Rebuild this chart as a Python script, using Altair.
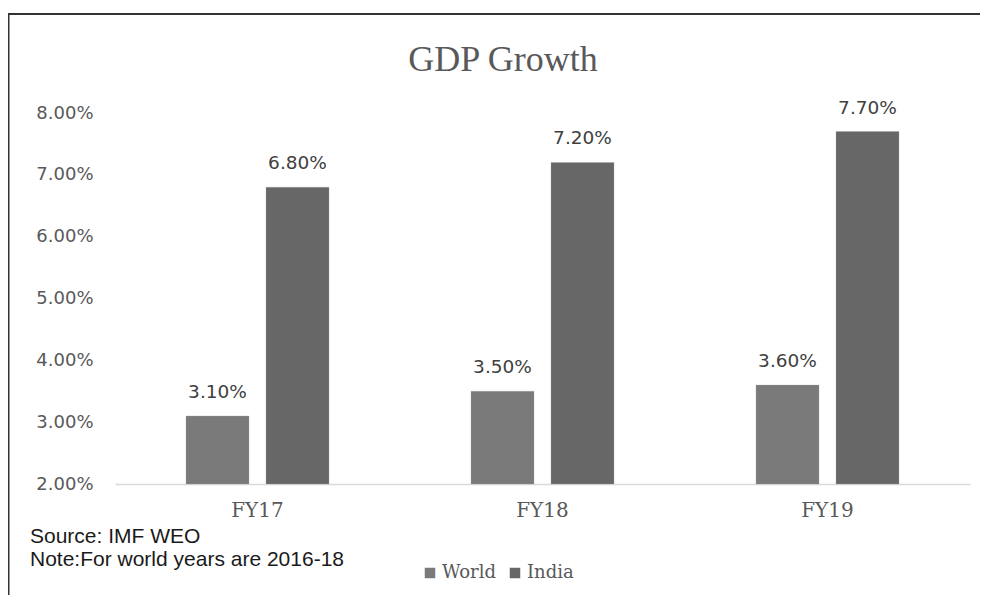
import altair as alt
import pandas as pd

categories = ["FY17", "FY18", "FY19"]
series_names = ["World", "India"]
world_values = [0.031, 0.035, 0.036]
india_values = [0.068, 0.072, 0.077]
y_ticks = [0.02, 0.03, 0.04, 0.05, 0.06, 0.07, 0.08]
bar_colors = ["#7a7a7a", "#676767"]
title_text = "GDP Growth"
note_lines = ["Source: IMF WEO", "Note:For world years are 2016-18"]

rows = []
for i, c in enumerate(categories):
    rows.append({"cat": c, "series": "World", "value": world_values[i]})
    rows.append({"cat": c, "series": "India", "value": india_values[i]})
df = pd.DataFrame(rows)

W, H = 855, 371

x_enc = alt.X("cat:N", sort=categories, title=None,
              scale=alt.Scale(paddingInner=0, paddingOuter=0),
              axis=alt.Axis(labelFont="DejaVu Serif", labelFontSize=20, labelColor="#595959",
                            labelPadding=16, ticks=False, domainColor="#d9d9d9",
                            domainWidth=1.5, labelAngle=0, grid=False))
xo_enc = alt.XOffset("series:N", sort=series_names,
                     scale=alt.Scale(domain=series_names, paddingInner=0.2125, paddingOuter=0.8875))
y_scale = alt.Scale(domain=[0.02, 0.08], zero=False, nice=False)

bars = alt.Chart(df).mark_bar(stroke="#a0a0a0", strokeWidth=0.5, strokeOpacity=0.6).encode(
    x=x_enc,
    xOffset=xo_enc,
    y=alt.Y("value:Q", scale=y_scale, title=None,
            axis=alt.Axis(values=y_ticks, format=".2%", labelFont="DejaVu Sans", labelFontSize=18,
                          labelColor="#595959", domain=False, ticks=False, grid=False,
                          labelPadding=22)),
    y2=alt.datum(0.02),
    color=alt.Color("series:N", sort=series_names,
                    scale=alt.Scale(domain=series_names, range=bar_colors),
                    legend=alt.Legend(title=None, orient="none", direction="horizontal",
                                      legendX=306, legendY=451, symbolType="square",
                                      symbolSize=110, symbolStrokeWidth=0,
                                      labelFont="DejaVu Serif", labelFontSize=18,
                                      labelColor="#595959", labelOffset=3, columnPadding=10)),
)

labels = alt.Chart(df).mark_text(font="DejaVu Sans", fontSize=18.5, color="#404040",
                                 baseline="alphabetic", dy=-18).encode(
    x=alt.X("cat:N", sort=categories),
    xOffset=alt.XOffset("series:N", sort=series_names),
    y=alt.Y("value:Q", scale=y_scale),
    text=alt.Text("value:Q", format=".2%"),
)

title = alt.Chart(pd.DataFrame({"t": [title_text]})).mark_text(
    font="Liberation Serif", fontSize=36, color="#595959", align="center", baseline="alphabetic"
).encode(x=alt.value(388), y=alt.value(-42), text="t:N")

notes_df = pd.DataFrame({"t": note_lines, "i": [0, 1]})
notes = alt.Chart(notes_df).mark_text(
    font="Liberation Sans", fontSize=21, color="#1a1a1a", align="left", baseline="alphabetic"
).encode(x=alt.value(-85), y=alt.value(430), text="t:N").transform_filter("datum.i == 0")
notes2 = alt.Chart(notes_df).mark_text(
    font="Liberation Sans", fontSize=21, color="#1a1a1a", align="left", baseline="alphabetic"
).encode(x=alt.value(-85), y=alt.value(453), text="t:N").transform_filter("datum.i == 1")

top_border = alt.Chart(pd.DataFrame({"a": [0]})).mark_rule(color="#333333", strokeWidth=2).encode(
    x=alt.value(-107), x2=alt.value(866), y=alt.value(-99))
left_border = alt.Chart(pd.DataFrame({"a": [0]})).mark_rule(color="#333333", strokeWidth=2).encode(
    x=alt.value(-106.5), y=alt.value(-100), y2=alt.value(490))

chart = alt.layer(bars, labels, title, notes, notes2, top_border, left_border).properties(
    width=W, height=H,
    background="white",
    autosize=alt.AutoSizeParams(type="none"),
    padding={"left": 107, "top": 105, "right": 10, "bottom": 111},
).configure_view(strokeWidth=0, stroke="transparent")

chart.save("out.html", embed_options={"renderer": "svg", "actions": False})
